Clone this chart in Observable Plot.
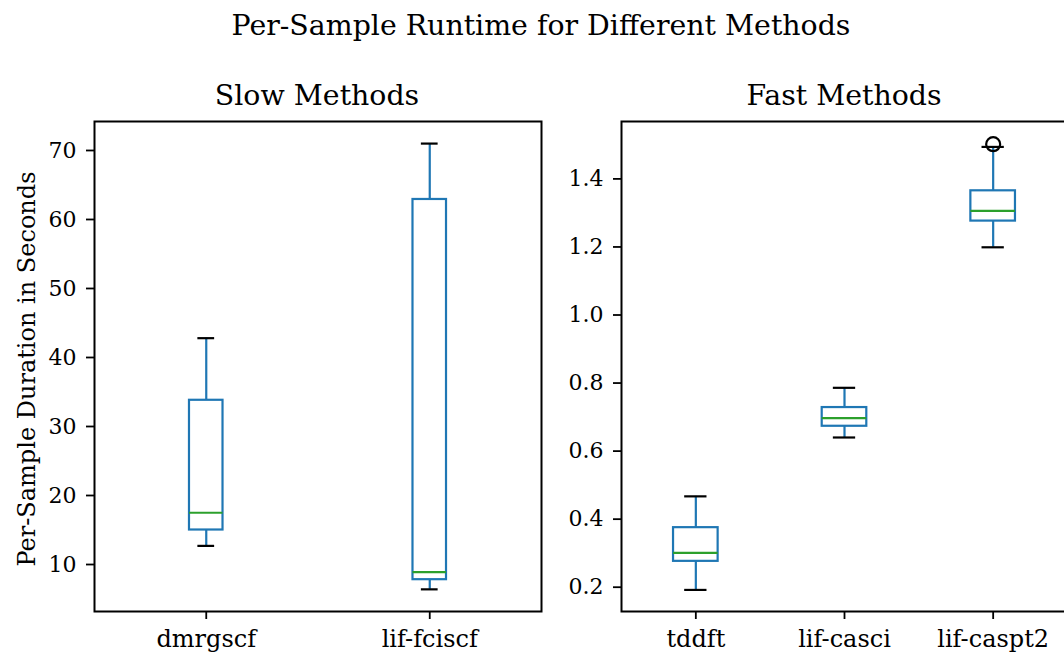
<!DOCTYPE html>
<html>
<head>
<meta charset="utf-8">
<script src="https://cdn.jsdelivr.net/npm/d3@7"></script>
<script src="https://cdn.jsdelivr.net/npm/@observablehq/plot@0.6"></script>
<style>
  html, body { margin: 0; padding: 0; background: white; overflow: hidden; }
  #root { position: relative; width: 1090px; height: 659px; background: white; }
  #root > * { position: absolute; top: 0; }
</style>
</head>
<body>
<div id="root"></div>
<script>
// ---- data ----
const suptitle = "Per-Sample Runtime for Different Methods";
const yLabel = "Per-Sample Duration in Seconds";

const slowTitle = "Slow Methods";
const slowNames = ["dmrgscf", "lif-fciscf"];
const slowLow  = [12.7, 6.4];
const slowQ1   = [15.0, 7.8];
const slowMed  = [17.5, 8.9];
const slowQ3   = [33.8, 62.9];
const slowHigh = [42.8, 71.0];
const slowTicks = [10, 20, 30, 40, 50, 60, 70];
const slowDomain = [3.19, 74.2];

const fastTitle = "Fast Methods";
const fastNames = ["tddft", "lif-casci", "lif-caspt2"];
const fastLow  = [0.192, 0.640, 1.199];
const fastQ1   = [0.276, 0.673, 1.276];
const fastMed  = [0.301, 0.697, 1.306];
const fastQ3   = [0.375, 0.728, 1.365];
const fastHigh = [0.467, 0.786, 1.494];
const fastOutlierMethod = ["lif-caspt2"];
const fastOutlierValue  = [1.502];
const fastTicks = [0.2, 0.4, 0.6, 0.8, 1.0, 1.2, 1.4];
const fastDomain = [0.1286, 1.5687];

// ---- styling ----
const BLUE = "#1f77b4", GREEN = "#2ca02c", FONT = "DejaVu Serif";

function rows(names, lo, q1, med, q3, hi) {
  return names.map((name, i) => ({name, pos: i + 1, lo: lo[i], q1: q1[i], med: med[i], q3: q3[i], hi: hi[i]}));
}

function boxPanel({names, data, outliers, yDomain, yTicks, yFormat, width, marginLeft, marginRight}) {
  const n = names.length;
  const w = Math.min(0.5, Math.max(0.15, 0.15 * (n - 1))); // matplotlib default box width
  const lw = 2.2;
  return Plot.plot({
    width, height: 659,
    marginLeft, marginRight, marginTop: 121, marginBottom: 48,
    style: {fontFamily: FONT, color: "black", background: "transparent", overflow: "visible"},
    x: {domain: [0.5, n + 0.5]},
    y: {domain: yDomain},
    marks: [
      Plot.ruleX(data, {x: "pos", y1: "lo", y2: "q1", stroke: BLUE, strokeWidth: lw}),
      Plot.ruleX(data, {x: "pos", y1: "q3", y2: "hi", stroke: BLUE, strokeWidth: lw}),
      Plot.ruleY(data, {y: "lo", x1: d => d.pos - w / 4, x2: d => d.pos + w / 4, stroke: "black", strokeWidth: lw}),
      Plot.ruleY(data, {y: "hi", x1: d => d.pos - w / 4, x2: d => d.pos + w / 4, stroke: "black", strokeWidth: lw}),
      Plot.rect(data, {x1: d => d.pos - w / 2, x2: d => d.pos + w / 2, y1: "q1", y2: "q3", fill: "none", stroke: BLUE, strokeWidth: lw}),
      Plot.ruleY(data, {y: "med", x1: d => d.pos - w / 2, x2: d => d.pos + w / 2, stroke: GREEN, strokeWidth: lw}),
      Plot.dot(outliers, {x: "pos", y: "value", r: 7, stroke: "black", strokeWidth: lw, fill: "none"}),
      Plot.axisY({ticks: yTicks, tickFormat: yFormat, tickSize: 8, tickPadding: 10, fontSize: 22, strokeWidth: 1.8, label: null}),
      Plot.axisX({ticks: d3.range(1, n + 1), tickFormat: i => names[i - 1], tickSize: 8, tickPadding: 10, fontSize: 24, strokeWidth: 1.8, label: null}),
      Plot.frame({stroke: "black", strokeWidth: 2})
    ]
  });
}

const root = document.getElementById("root");

const slowData = rows(slowNames, slowLow, slowQ1, slowMed, slowQ3, slowHigh);
const left = boxPanel({
  names: slowNames, data: slowData, outliers: [],
  yDomain: slowDomain, yTicks: slowTicks, yFormat: d3.format("d"),
  width: 560, marginLeft: 94, marginRight: 19
});
left.style.left = "0px";
root.appendChild(left);

const fastData = rows(fastNames, fastLow, fastQ1, fastMed, fastQ3, fastHigh);
const fastOutliers = fastOutlierMethod.map((m, i) => ({pos: fastNames.indexOf(m) + 1, value: fastOutlierValue[i]}));
const right = boxPanel({
  names: fastNames, data: fastData, outliers: fastOutliers,
  yDomain: fastDomain, yTicks: fastTicks, yFormat: d3.format(".1f"),
  width: 520, marginLeft: 61, marginRight: 13
});
right.style.left = "560px";
root.appendChild(right);

// ---- titles and y label overlay ----
const svg = d3.create("svg").attr("width", 1090).attr("height", 659)
  .style("left", "0px").style("pointer-events", "none")
  .attr("font-family", FONT).attr("fill", "black");
svg.append("text").attr("x", 541).attr("y", 35).attr("text-anchor", "middle")
  .attr("font-size", 28.4).text(suptitle);
svg.append("text").attr("x", 317).attr("y", 105).attr("text-anchor", "middle")
  .attr("font-size", 28.4).text(slowTitle);
svg.append("text").attr("x", 844).attr("y", 105).attr("text-anchor", "middle")
  .attr("font-size", 28.4).text(fastTitle);
svg.append("text").attr("transform", "translate(35,369) rotate(-90)").attr("text-anchor", "middle")
  .attr("font-size", 24).text(yLabel);
root.appendChild(svg.node());
</script>
</body>
</html>
